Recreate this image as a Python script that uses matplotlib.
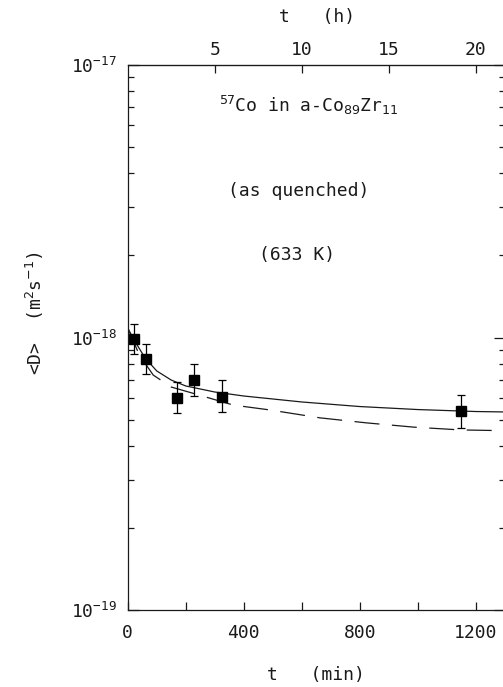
"""
Mean diffusivity of 57Co in as-quenched a-Co89Zr11 at 633 K versus
annealing time, with model curves (solid and dashed).
"""

import numpy as np
import matplotlib.pyplot as plt
from matplotlib.ticker import FixedLocator, LogLocator, NullFormatter

# ---------------------------------------------------------------------------
# Data
# ---------------------------------------------------------------------------

t_min = [22, 62, 170, 229, 325, 1150]
D_mean = [9.87e-19, 8.32e-19, 6.01e-19, 7.0e-19, 6.04e-19, 5.37e-19]
D_upper = [1.12e-18, 9.47e-19, 6.87e-19, 8.0e-19, 6.97e-19, 6.15e-19]
D_lower = [8.7e-19, 7.35e-19, 5.3e-19, 6.1e-19, 5.31e-19, 4.67e-19]

# solid model curve
t_solid = [0, 20, 60, 100, 150, 200, 300, 400, 600, 800, 1000, 1200, 1300]
D_solid = [1.084e-18, 9.87e-19, 8.41e-19, 7.54e-19, 6.98e-19, 6.64e-19,
           6.31e-19, 6.10e-19, 5.80e-19, 5.58e-19, 5.44e-19, 5.35e-19, 5.33e-19]

# dashed model curve
t_dash = [0, 40, 88, 150, 237, 364, 491, 664, 824, 985, 1147, 1300]
D_dash = [1.084e-18, 8.63e-19, 7.28e-19, 6.58e-19, 6.19e-19, 5.65e-19,
          5.42e-19, 5.07e-19, 4.86e-19, 4.69e-19, 4.58e-19, 4.55e-19]

x_major = [0, 400, 800, 1200]
x_minor = [200, 600, 1000]
top_ticks_h = [5, 10, 15, 20]

FONT = "DejaVu Sans Mono"
FS = 13
INK = "#1a1a1a"

# ---------------------------------------------------------------------------
# Plot
# ---------------------------------------------------------------------------

plt.rcParams["font.family"] = FONT
plt.rcParams["mathtext.fontset"] = "dejavusans"
plt.rcParams["text.color"] = INK
plt.rcParams["xtick.color"] = INK
plt.rcParams["ytick.color"] = INK

fig = plt.figure(figsize=(5.03, 6.87), dpi=100)
ax = fig.add_axes([127.7 / 503, 77 / 687, 377 / 503, 545 / 687])

t = np.array(t_min)
D = np.array(D_mean)
yerr = np.vstack([D - np.array(D_lower), np.array(D_upper) - D])

ax.plot(t_solid, D_solid, color=INK, lw=0.9)
ax.plot(t_dash, D_dash, color=INK, lw=0.9, linestyle=(0, (20, 10)))
ax.errorbar(t, D, yerr=yerr, fmt="s", color="black", ms=7, elinewidth=0.9,
            capsize=3, capthick=0.9)

ax.set_yscale("log")
ax.set_xlim(0, 1300)
ax.set_ylim(1e-19, 1e-17)

ax.xaxis.set_major_locator(FixedLocator(x_major))
ax.xaxis.set_minor_locator(FixedLocator(x_minor))
ax.yaxis.set_major_locator(LogLocator(base=10))
ax.yaxis.set_minor_locator(LogLocator(base=10, subs=np.arange(2, 10)))
ax.yaxis.set_minor_formatter(NullFormatter())

ax.tick_params(axis="x", which="both", direction="in", length=6, width=0.9,
               labelsize=FS, pad=10, top=False)
ax.tick_params(axis="y", which="major", direction="in", length=8, width=0.9,
               labelsize=FS, pad=8, right=True)
ax.tick_params(axis="y", which="minor", direction="in", length=4, width=0.9,
               right=True)

for sp in ax.spines.values():
    sp.set_linewidth(0.9)
    sp.set_color(INK)

# top axis in hours
secax = ax.secondary_xaxis("top", functions=(lambda x: x / 60.0,
                                              lambda h: h * 60.0))
secax.xaxis.set_major_locator(FixedLocator(top_ticks_h))
secax.tick_params(direction="in", length=6, width=0.9, labelsize=FS, pad=4)

# axis labels
fig.text(316 / 503, 1 - 675 / 687, "t   (min)", ha="center", va="center",
         fontsize=FS)
fig.text(317 / 503, 1 - 17 / 687, "t   (h)", ha="center", va="center",
         fontsize=FS)
fig.text(35 / 503, 1 - 313 / 687, r"<D>  (m$^2$s$^{-1}$)", ha="center",
         va="center", rotation=90, fontsize=FS)

# annotations (placed in axes fractions)
ax.text(0.48, 1 - (105 - 65) / 545, r"$^{57}$Co in a-Co$_{89}$Zr$_{11}$",
        ha="center", va="center", fontsize=FS, transform=ax.transAxes)
ax.text(0.453, 1 - (191 - 65) / 545, "(as quenched)",
        ha="center", va="center", fontsize=FS, transform=ax.transAxes)
ax.text(0.45, 1 - (255 - 65) / 545, "(633 K)",
        ha="center", va="center", fontsize=FS, transform=ax.transAxes)

plt.savefig("out.png", dpi=100)
plt.close()
